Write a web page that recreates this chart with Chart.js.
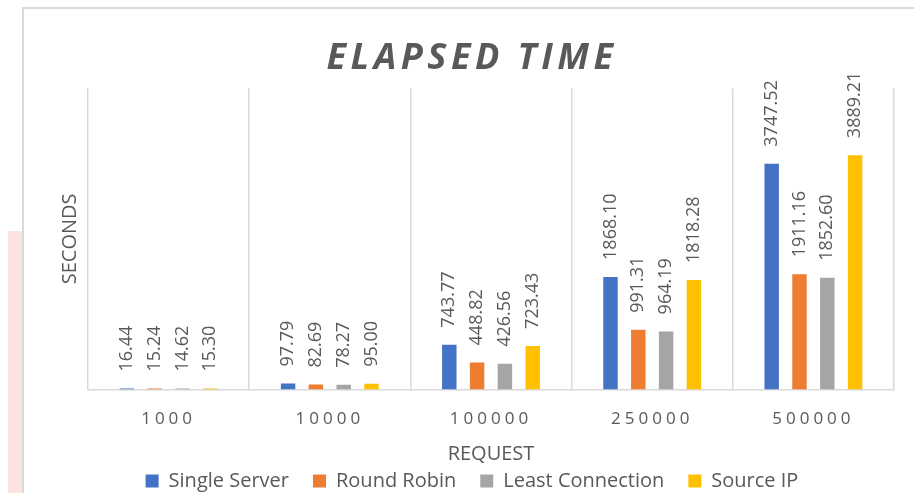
<!DOCTYPE html>
<html lang="en">
<head>
    <meta charset="UTF-8">
    <title>Elapsed Time</title>
    <script src="https://cdn.jsdelivr.net/npm/chart.js"></script>
    <style>
        body { margin: 0; background: #fff; overflow: hidden; }
        .strip { position: absolute; left: 8px; top: 231px; width: 14px; height: 270px; background: #fde2e2; }
        .frame { position: absolute; left: 22px; top: 7px; width: 920px; height: 520px; border: 2px solid #d9d9d9; }
        #elapsedChart { position: absolute; left: 0; top: 0; }
    </style>
</head>
<body>
    <div class="strip"></div>
    <div class="frame"></div>
    <canvas id="elapsedChart" width="914" height="493"></canvas>

    <script>
        // datos
        const requests = ['1000', '10000', '100000', '250000', '500000'];
        const singleServer = [16.44, 97.79, 743.77, 1868.10, 3747.52];
        const roundRobin = [15.24, 82.69, 448.82, 991.31, 1911.16];
        const leastConnection = [14.62, 78.27, 426.56, 964.19, 1852.60];
        const sourceIP = [15.30, 95.00, 723.43, 1818.28, 3889.21];

        Chart.defaults.font.family = '"Open Sans", sans-serif';
        Chart.defaults.color = '#595959';

        // espaciado entre letras para titulo y etiquetas del eje x
        function withSpacing(fn, ctx, px) {
            return function (...args) {
                ctx.save();
                ctx.letterSpacing = px;
                fn.apply(this, args);
                ctx.restore();
            };
        }

        const spacingPlugin = {
            id: 'spacing',
            beforeDraw(chart) {
                const x = chart.scales.x;
                if (x && !x._spaced) {
                    x.drawLabels = withSpacing(x.drawLabels, chart.ctx, '4px');
                    x._spaced = true;
                }
                const t = chart.titleBlock;
                if (t && !t._spaced) {
                    t.draw = withSpacing(t.draw, chart.ctx, '4.5px');
                    t._spaced = true;
                }
            }
        };

        // etiquetas de valor verticales encima de cada barra
        const valueLabels = {
            id: 'valueLabels',
            afterDatasetsDraw(chart) {
                const ctx = chart.ctx;
                ctx.save();
                ctx.font = '18px "Open Sans"';
                ctx.fillStyle = '#595959';
                ctx.textAlign = 'left';
                ctx.textBaseline = 'middle';
                chart.data.datasets.forEach((ds, i) => {
                    chart.getDatasetMeta(i).data.forEach((bar, j) => {
                        ctx.save();
                        ctx.translate(bar.x, bar.y - 17);
                        ctx.rotate(-Math.PI / 2);
                        ctx.fillText(ds.data[j].toFixed(2), 0, 0);
                        ctx.restore();
                    });
                });
                ctx.restore();
            }
        };

        const ctx = document.getElementById('elapsedChart').getContext('2d');
        new Chart(ctx, {
            type: 'bar',
            data: {
                labels: requests,
                datasets: [
                    { label: 'Single Server', data: singleServer, backgroundColor: '#4472C4' },
                    { label: 'Round Robin', data: roundRobin, backgroundColor: '#ED7D31' },
                    { label: 'Least Connection', data: leastConnection, backgroundColor: '#A5A5A5' },
                    { label: 'Source IP', data: sourceIP, backgroundColor: '#FFC000' }
                ]
            },
            options: {
                responsive: false,
                animation: false,
                categoryPercentage: 0.69,
                barPercentage: 0.52,
                layout: { padding: { left: 50, right: 20, top: 0, bottom: 0 } },
                plugins: {
                    title: {
                        display: true,
                        text: 'ELAPSED TIME',
                        color: '#595959',
                        font: { size: 36, weight: 'bold', style: 'italic' },
                        padding: { top: 37, bottom: 8 }
                    },
                    legend: {
                        position: 'bottom',
                        maxHeight: 46,
                        labels: {
                            boxWidth: 13,
                            boxHeight: 13,
                            padding: 24,
                            color: '#595959',
                            font: { size: 20 }
                        }
                    },
                    tooltip: { enabled: false }
                },
                scales: {
                    x: {
                        grid: { offset: true, color: '#d9d9d9', lineWidth: 1.5, drawTicks: false },
                        border: { color: '#d9d9d9', width: 1.5 },
                        ticks: { padding: 19, color: '#595959', font: { size: 17 } },
                        title: {
                            display: true,
                            text: 'REQUEST',
                            color: '#595959',
                            font: { size: 20, lineHeight: 0.63 },
                            padding: { top: 0, bottom: -13.5 }
                        }
                    },
                    y: {
                        min: 0,
                        max: 5000,
                        ticks: { display: false },
                        grid: { display: false, drawTicks: false },
                        border: { display: false },
                        title: {
                            display: true,
                            text: 'SECONDS',
                            color: '#595959',
                            font: { size: 20 },
                            padding: { top: 8, bottom: 6 }
                        }
                    }
                }
            },
            plugins: [spacingPlugin, valueLabels]
        });
    </script>
</body>
</html>
